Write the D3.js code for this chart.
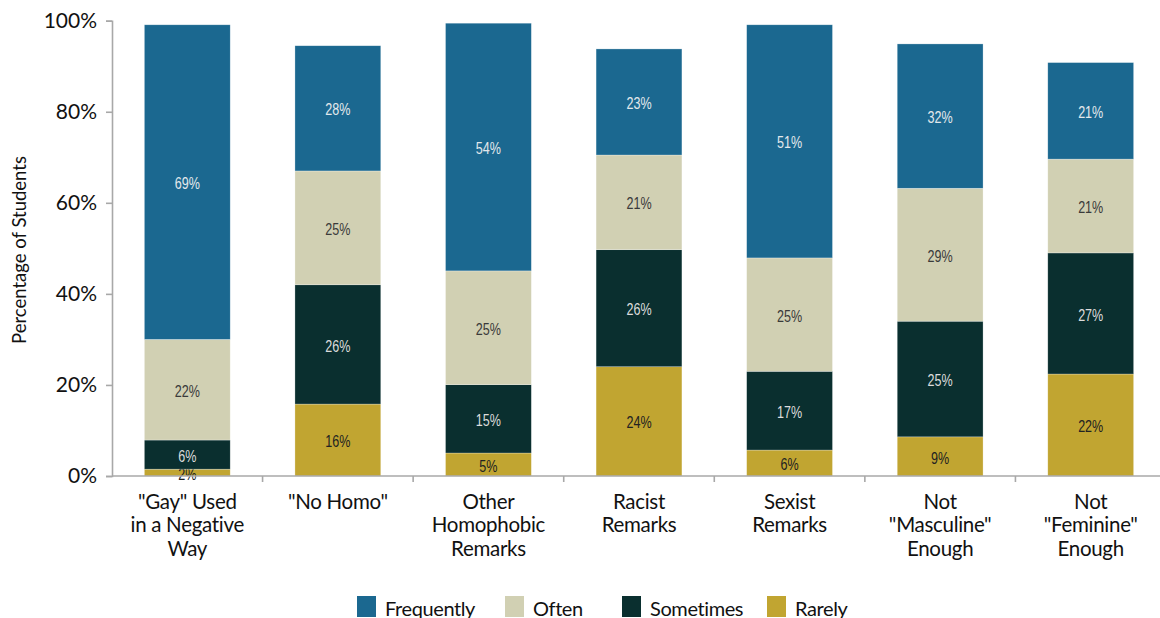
<!DOCTYPE html>
<html>
<head>
<meta charset="utf-8">
<script src="https://cdn.jsdelivr.net/npm/d3@7"></script>
<style>
  html, body { margin: 0; padding: 0; background: #ffffff; }
  svg { display: block; }
</style>
</head>
<body>
<svg id="chart" width="1160" height="618"></svg>
<script>
// ---- data ----
const categories = [
  ['"Gay" Used', 'in a Negative', 'Way'],
  ['"No Homo"'],
  ['Other', 'Homophobic', 'Remarks'],
  ['Racist', 'Remarks'],
  ['Sexist', 'Remarks'],
  ['Not', '"Masculine"', 'Enough'],
  ['Not', '"Feminine"', 'Enough']
];
const seriesNames = ["Rarely", "Sometimes", "Often", "Frequently"];
const rarely     = [1.5, 15.8, 5.05, 24.0, 5.7,  8.6, 22.4];
const sometimes  = [6.4, 26.2, 15.0, 25.7, 17.3, 25.4, 26.6];
const often      = [22.1, 25.0, 25.0, 20.8, 24.9, 29.2, 20.6];
const frequently = [69.1, 27.5, 54.4, 23.3, 51.2, 31.7, 21.2];
const yTicks = [0, 20, 40, 60, 80, 100];
const legendOrder = ["Frequently", "Often", "Sometimes", "Rarely"];

// ---- styles ----
const colors = {
  Frequently: "#1b6890",
  Often: "#d1d0b3",
  Sometimes: "#0a2f2f",
  Rarely: "#c1a531"
};
const labelColors = {
  Frequently: "#e3e8ec",
  Often: "#3a3a3a",
  Sometimes: "#dcdcdc",
  Rarely: "#222222"
};
const mainFont = "Lato, 'Liberation Sans', sans-serif";
const labelFont = "'Liberation Sans', Arial, sans-serif";

const svg = d3.select("#chart");
const plotLeft = 112, plotRight = 1166, plotTop = 20.7, plotBottom = 476;

const keys = categories.map((c, i) => "c" + i);
const rows = keys.map((k, i) => ({
  key: k,
  Rarely: rarely[i],
  Sometimes: sometimes[i],
  Often: often[i],
  Frequently: frequently[i]
}));

const x = d3.scaleBand().domain(keys).range([plotLeft, plotRight])
  .paddingInner(0.43).paddingOuter(0.215);
const y = d3.scaleLinear().domain([0, 100]).range([plotBottom, plotTop]);

const stack = d3.stack().keys(seriesNames)(rows);

// bars
const layers = svg.append("g").selectAll("g")
  .data(stack).join("g")
  .attr("fill", d => colors[d.key]);

layers.selectAll("rect")
  .data(d => d.map(p => ({ p, key: d.key })))
  .join("rect")
  .attr("x", d => x(d.p.data.key))
  .attr("width", x.bandwidth())
  .attr("y", d => y(d.p[1]))
  .attr("height", d => y(d.p[0]) - y(d.p[1]))
  .attr("stroke", "rgba(255,255,255,0.45)")
  .attr("stroke-width", 0.6);

// bar labels (condensed look via horizontal scale)
layers.selectAll("text")
  .data(d => d.map(p => ({ p, key: d.key })))
  .join("text")
  .attr("transform", d =>
    `translate(${x(d.p.data.key) + x.bandwidth() / 2},${(y(d.p[0]) + y(d.p[1])) / 2 + 1}) scale(0.74,1)`)
  .attr("dy", "0.36em")
  .attr("text-anchor", "middle")
  .attr("font-family", labelFont)
  .attr("font-size", 17)
  .attr("fill", d => labelColors[d.key])
  .text(d => Math.round(d.p[1] - d.p[0]) + "%");

// y axis
const yAxis = svg.append("g")
  .attr("transform", `translate(${plotLeft},0)`)
  .call(d3.axisLeft(y).tickValues(yTicks).tickFormat(d => d + "%").tickSize(6).tickPadding(9));
yAxis.select(".domain").attr("stroke", "#a8a8a8").attr("stroke-width", 1.6);
yAxis.selectAll(".tick line").attr("stroke", "#a8a8a8").attr("stroke-width", 1.6);
yAxis.selectAll(".tick text")
  .attr("font-family", mainFont)
  .attr("font-size", 21)
  .attr("fill", "#111");

// x axis line
svg.append("line")
  .attr("x1", plotLeft).attr("x2", plotRight)
  .attr("y1", plotBottom).attr("y2", plotBottom)
  .attr("stroke", "#a8a8a8").attr("stroke-width", 1.6);

// x axis separators
svg.append("g").selectAll("line")
  .data(keys.slice(0, -1))
  .join("line")
  .attr("x1", k => x(k) + x.bandwidth() + x.step() * x.paddingInner() / 2)
  .attr("x2", k => x(k) + x.bandwidth() + x.step() * x.paddingInner() / 2)
  .attr("y1", plotBottom).attr("y2", plotBottom + 6)
  .attr("stroke", "#a8a8a8").attr("stroke-width", 1.6);

// category labels
const catG = svg.append("g").selectAll("text")
  .data(keys)
  .join("text")
  .attr("text-anchor", "middle")
  .attr("font-family", mainFont)
  .attr("font-size", 20.5)
  .attr("letter-spacing", -0.3)
  .attr("fill", "#111");
catG.each(function (k, i) {
  const t = d3.select(this);
  categories[i].forEach((line, j) => {
    t.append("tspan")
      .attr("x", x(k) + x.bandwidth() / 2)
      .attr("y", 509 + j * 23.4)
      .text(line);
  });
});

// y axis title
svg.append("text")
  .attr("transform", "translate(26,250) rotate(-90)")
  .attr("text-anchor", "middle")
  .attr("font-family", mainFont)
  .attr("font-size", 18.5)
  .attr("fill", "#111")
  .text("Percentage of Students");

// legend
const legendX = [357, 505, 622, 767];
const lg = svg.append("g").selectAll("g")
  .data(legendOrder)
  .join("g")
  .attr("transform", (d, i) => `translate(${legendX[i]},596)`);
lg.append("rect")
  .attr("width", 19).attr("height", 21)
  .attr("fill", d => colors[d]);
lg.append("text")
  .attr("x", 28).attr("y", 19.5)
  .attr("font-family", mainFont)
  .attr("font-size", 20)
  .attr("letter-spacing", -0.4)
  .attr("fill", "#111")
  .text(d => d);
</script>
</body>
</html>
